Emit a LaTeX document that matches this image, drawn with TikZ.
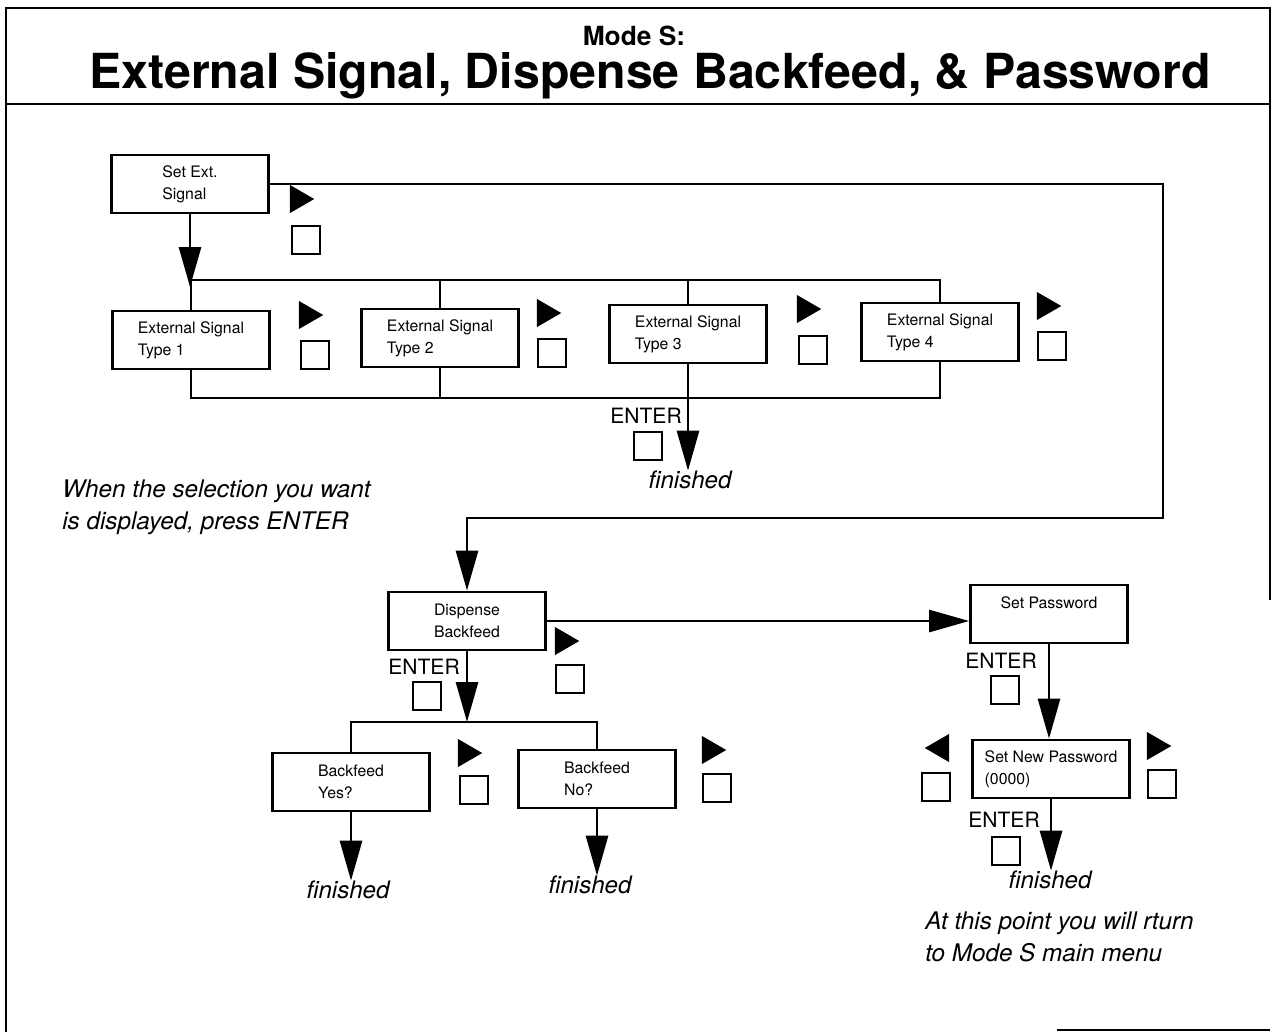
\documentclass[tikz,border=0pt]{standalone}
\usepackage{fontspec}
\setmainfont{TeX Gyre Heros}
\usetikzlibrary{arrows.meta,shapes.geometric}

\begin{document}
\begin{tikzpicture}[
    x=0.02cm, y=-0.02cm,
    every node/.style={inner sep=0pt},
    screen/.style={draw, line width=1.6pt, minimum width=3.14cm, minimum height=1.16cm, align=left, font=\fontsize{9}{12.5}\selectfont},
    keybox/.style={draw, line width=1.3pt, minimum size=0.56cm},
    rkey/.style={regular polygon, regular polygon sides=3, shape border rotate=-90, fill, minimum size=0.65cm},
    lkey/.style={rkey, shape border rotate=90},
    enter/.style={font=\fontsize{12}{14}\selectfont},
    done/.style={font=\fontsize{13.7}{16}\selectfont\itshape},
    note/.style={font=\fontsize{13.8}{18.2}\selectfont\itshape, align=left},
    wire/.style={line width=1.6pt},
    arr/.style={wire, -{Triangle[length=0.8cm, width=0.44cm]}}
]
\useasboundingbox (0,0) rectangle (1273,1032);

% Frame and header
\draw[line width=1.2pt] (6,1032) -- (6,8) -- (1270,8) -- (1270,600);
\draw[line width=1.2pt] (6,104) -- (1270,104);
\draw[line width=1.2pt] (1057,1030) -- (1270,1030);
\node[anchor=base, font=\fontsize{15}{17}\selectfont\bfseries] (mode) at (634,45) {Mode S:};
\node[anchor=base, font=\fontsize{27.5}{30}\selectfont\bfseries] (title) at (650,88) {External Signal, Dispense Backfeed, \& Password};

% External signal
\node[screen] (setext) at (190,184) {Set Ext.\\Signal};
\node[screen] (type1) at (191,340) {External Signal\\Type 1};
\node[screen] (type2) at (440,338) {External Signal\\Type 2};
\node[screen] (type3) at (688,334) {External Signal\\Type 3};
\node[screen] (type4) at (940,332) {External Signal\\Type 4};

% Dispense backfeed
\node[screen, align=center] (disp) at (467,621) {Dispense\\Backfeed};
\node[screen] (yes) at (351,782) {Backfeed\\Yes?};
\node[screen] (no) at (597,779) {Backfeed\\No?};

% Password
\node[screen, align=center] (setpw) at (1049,614) {Set Password\\\mbox{}};
\node[screen] (newpw) at (1051,769) {Set New Password\\(0000)};

% Keys
\foreach \n/\tx/\ty/\kx/\ky in {0/298/199/306/240, 1/307/315/315/355, 2/545/313/552/353,
    3/805/309/813/350, 4/1045/306/1052/346, d/563/641/570/679,
    y/466/753/474/790, n/710/750/717/788, r/1155/746/1162/784}{
  \node[rkey] (t\n) at (\tx,\ty) {};
  \node[keybox] (k\n) at (\kx,\ky) {};
}
\node[lkey] (tl) at (941,748) {};
\node[keybox] (kl) at (936,787) {};

% ENTER keys
\node[enter] (e1) at (646,416) {ENTER};
\node[keybox] (ke1) at (648,446) {};
\node[enter] (e2) at (424,667) {ENTER};
\node[keybox] (ke2) at (427,696) {};
\node[enter] (e3) at (1001,661) {ENTER};
\node[keybox] (ke3) at (1005,690) {};
\node[enter] (e4) at (1004,820) {ENTER};
\node[keybox] (ke4) at (1006,851) {};

% Finished
\node[done] (f1) at (690,480) {finished};
\node[done] (f2) at (348,890) {finished};
\node[done] (f3) at (590,885) {finished};
\node[done] (f4) at (1050,880) {finished};

% Notes
\node[note, anchor=north west] (note1) at (62,479) {When the selection you want\\is displayed, press ENTER};
\node[note, anchor=north west] (note2) at (925,911) {At this point you will rturn\\to Mode S main menu};

% Connectors
\coordinate (jT) at (190,287);
\coordinate (busT) at (0,280);
\coordinate (busB) at (0,398);
\coordinate (loopR) at (1163,518);
\coordinate (busY) at (0,722);
\draw[arr] (setext.south) -- (jT);
\draw[wire] (type1.north) -- (type1.north |- busT) -| (type4.north);
\draw[wire] (type2.north) -- (type2.north |- busT);
\draw[wire] (type3.north) -- (type3.north |- busT);
\draw[wire] (type1.south) -- (type1.south |- busB) -| (type4.south);
\draw[wire] (type2.south) -- (type2.south |- busB);
\draw[arr] (type3.south) -- (type3.south |- f1.north);
\draw[arr] (setext.east) -| (loopR) -| (disp.north);
\draw[arr] (disp.east) -- (setpw.west |- disp.east);
\draw[arr] (disp.south) -- (disp.south |- busY);
\draw[wire] (yes.north) -- (yes.north |- busY) -| (no.north);
\draw[arr] (yes.south) -- (yes.south |- f2.north);
\draw[arr] (no.south) -- (no.south |- f3.north);
\draw[arr] (setpw.south) -- (setpw.south |- newpw.north);
\draw[arr] (newpw.south) -- (newpw.south |- f4.north);
\end{tikzpicture}
\end{document}
